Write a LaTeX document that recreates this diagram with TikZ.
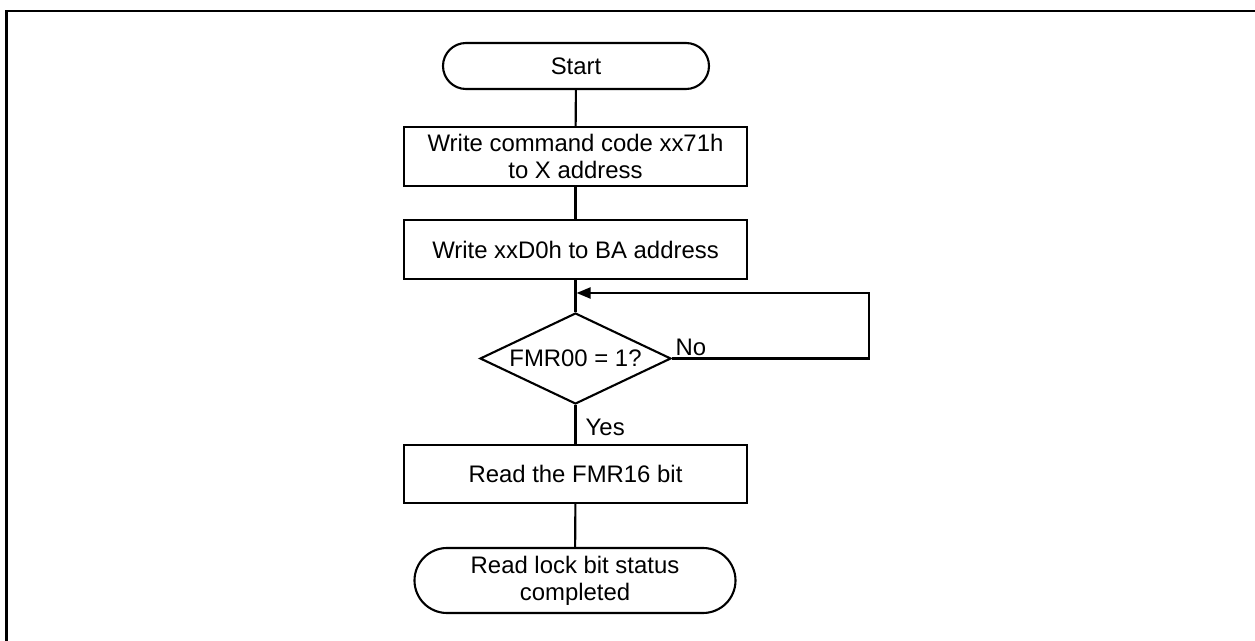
\documentclass[tikz,border=0pt]{standalone}
\usepackage{fontspec}
\setmainfont{Liberation Sans}
\usetikzlibrary{shapes.geometric,arrows.meta,positioning}

\tikzset{
  boxline/.style={line width=0.6pt},
  stepbox/.style={draw, boxline, minimum width=3.43cm, minimum height=0.59cm, align=center, inner sep=0pt},
  termbox/.style={draw, boxline, align=center, inner sep=0pt},
  decbox/.style={draw, boxline, diamond, aspect=2.1, minimum width=1.91cm, minimum height=0.91cm, inner sep=0pt},
  flow/.style={boxline},
  loopback/.style={boxline, -{Triangle[length=1.4mm, width=1.1mm]}},
}

\begin{document}
\begin{tikzpicture}[font=\fontsize{6.8}{7.6}\selectfont]
    \useasboundingbox (0,0) rectangle (12.55,-6.41);
    % Frame
    \draw[line width=0.85pt] (0.065,-6.41) |- (12.55,-0.11);
    % Terminals
    \node[termbox, minimum width=2.66cm, minimum height=0.46cm, rounded corners=0.23cm] (start) at (5.76,-0.66) {Start};
    \node[termbox, minimum width=3.21cm, minimum height=0.65cm, rounded corners=0.325cm] (done) at (5.75,-5.805) {Read lock bit status\\completed};
    % Steps
    \node[stepbox] (cmd) at (5.755,-1.565) {Write command code xx71h\\to X address};
    \node[stepbox] (blk) at (5.755,-2.495) {Write xxD0h to BA address};
    \node[decbox] (check) at (5.755,-3.585) {FMR00 = 1?};
    \node[stepbox, minimum height=0.58cm] (rd) at (5.755,-4.74) {Read the FMR16 bit};
    % Connectors
    \coordinate (merge) at (5.755,-2.93);
    \draw[flow] (start) -- (cmd);
    \draw[flow] (cmd) -- (blk);
    \draw[flow] (blk) -- (check);
    \draw[flow] (check) -- (rd);
    \draw[flow] (rd) -- (done);
    % No loop
    \draw[loopback] (check.east) -- ++(1.97,0) |- ([xshift=0.3pt]merge);
    % Labels
    \node[anchor=west, inner sep=0pt] (nolbl) at (6.75,-3.47) {No};
    \node[anchor=west, inner sep=0pt] (yeslbl) at (5.85,-4.27) {Yes};
\end{tikzpicture}
\end{document}
